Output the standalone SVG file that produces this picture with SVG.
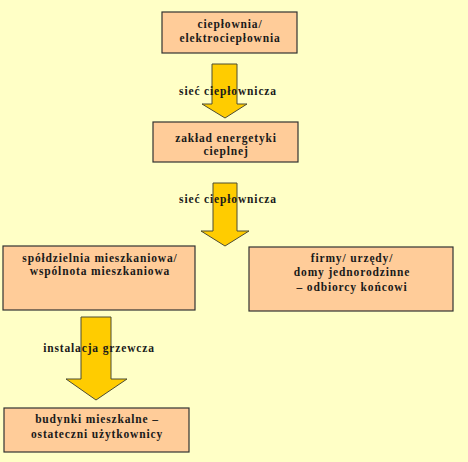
<svg xmlns="http://www.w3.org/2000/svg" width="468" height="462" viewBox="0 0 468 462">
<style>
.box{fill:#FFCC99;stroke:#333333;stroke-width:1.2}
.arr{fill:#FFCC00;stroke:#4d4d33;stroke-width:1}
text{font-family:"Liberation Serif","Times New Roman",serif;font-weight:bold;font-size:11.5px;fill:#1a1a1a;text-anchor:middle;letter-spacing:0.85px}
</style>
<rect width="468" height="462" fill="#FFFFC6"/>
<g id="connectors">
<polygon class="arr" points="212,64 237,64 237,104 247,104 225,118 202,104 212,104"/>
<polygon class="arr" points="213,183 237,183 237,231 249,231 225,246 201,231 213,231"/>
<polygon class="arr" points="81,317 111,317 111,379 127,379 96,400 66,379 81,379"/>
<text x="228" y="95">sieć ciepłownicza</text>
<text x="228" y="203">sieć ciepłownicza</text>
<text x="99" y="352">instalacja grzewcza</text>
</g>
<g id="cieplownia">
<rect class="box" x="162" y="12" width="135" height="41"/>
<text x="230" y="28">ciepłownia/</text>
<text x="230" y="42">elektrociepłownia</text>
</g>
<g id="zaklad">
<rect class="box" x="153" y="122" width="145" height="40"/>
<text x="226" y="142">zakład energetyki</text>
<text x="226" y="155">cieplnej</text>
</g>
<g id="spoldzielnia">
<rect class="box" x="3" y="246" width="192" height="64"/>
<text x="100" y="262">spółdzielnia mieszkaniowa/</text>
<text x="100" y="275">wspólnota mieszkaniowa</text>
</g>
<g id="firmy">
<rect class="box" x="249" y="247" width="204" height="64"/>
<text x="352" y="262">firmy/ urzędy/</text>
<text x="352" y="276">domy jednorodzinne</text>
<text x="352" y="291">– odbiorcy końcowi</text>
</g>
<g id="budynki">
<rect class="box" x="4" y="408" width="185" height="44"/>
<text x="97" y="423">budynki mieszkalne –</text>
<text x="97" y="438">ostateczni użytkownicy</text>
</g>
</svg>
